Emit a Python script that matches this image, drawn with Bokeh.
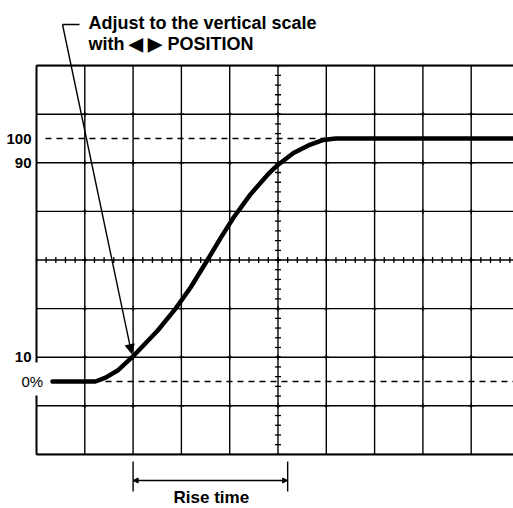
import numpy as np
from bokeh.plotting import figure
from bokeh.models import Range1d, Arrow, NormalHead
from bokeh.embed import file_html
from bokeh.resources import INLINE
from bokeh.core.properties import value

# ---- data (x in graticule divisions, y in percent of step amplitude) ----
curve_div = [0.33, 1.22, 1.43, 1.68, 1.98, 2.51, 2.88, 3.19, 3.54, 3.81, 4.08, 4.43, 4.78,
             4.99, 5.32, 5.67, 5.94, 6.19, 9.95]
curve_pct = [0, 0, 1.6, 4.5, 10, 21, 30, 38.7, 50, 59, 67.5, 77, 85,
             89, 94, 97.5, 99.4, 100, 100]
level_labels = ["100", "90", "10"]
level_pct = [100, 90, 10]
zero_label = "0%"
dashed_pct = [100, 0]
rise_start_div = 2.0
rise_end_div = 5.2
note_lines = ["Adjust to the vertical scale", "with \u25C0 \u25B6 POSITION"]
rise_label = "Rise time"

# graticule structure
n_hdiv = 10
n_vdiv = 8
pct_per_div = 20
bottom_pct = -30

PX_X = 48.3   # pixels per division (horizontal)
PX_Y = 2.43   # pixels per percent
x0_px, y0_px = 36, 381
W, H = 513, 508

def xd(px):
    return (px - x0_px) / PX_X

def yp(py):
    return (y0_px - py) / PX_Y

p = figure(width=W, height=H, x_range=Range1d(xd(0), xd(W)), y_range=Range1d(yp(H), yp(0)),
           output_backend="svg", toolbar_location=None, min_border=0)
p.axis.visible = False
p.grid.visible = False
p.outline_line_color = None
p.background_fill_color = "white"
p.border_fill_color = "white"

top_pct = bottom_pct + n_vdiv * pct_per_div
x_right = xd(W) + 1

# horizontal grid lines
hy = [bottom_pct + i * pct_per_div for i in range(n_vdiv + 1)]
p.segment(x0=[0] * len(hy), y0=hy, x1=[x_right] * len(hy), y1=hy,
          line_color="black", line_width=1.4)
# vertical grid lines
vx = list(range(1, n_hdiv + 1))
p.segment(x0=vx, y0=[bottom_pct] * len(vx), x1=vx, y1=[top_pct] * len(vx),
          line_color="black", line_width=1.4)
# outer border (left broken around the 0% label)
p.segment(x0=[0, 0], y0=[top_pct, bottom_pct], x1=[x_right, x_right], y1=[top_pct, bottom_pct],
          line_color="black", line_width=2)
p.segment(x0=[0, 0], y0=[top_pct, yp(395)], x1=[0, 0], y1=[yp(362), bottom_pct],
          line_color="black", line_width=2)

# minor ticks on center lines
cx = n_hdiv / 2
cy = bottom_pct + n_vdiv / 2 * pct_per_div
ty = np.arange(bottom_pct, top_pct + 0.01, pct_per_div / 5)
p.segment(x0=cx - 3 / PX_X, y0=ty, x1=cx + 3 / PX_X, y1=ty, line_color="black", line_width=1.3)
tx = np.arange(0, x_right, 0.2)
p.segment(x0=tx, y0=cy - 3 / PX_Y, x1=tx, y1=cy + 3 / PX_Y, line_color="black", line_width=1.3)

# small marks at grid intersections
gx, gy = np.meshgrid(np.arange(1, n_hdiv), hy[1:-1])
p.scatter(gx.ravel(), gy.ravel(), marker="cross", size=5, line_color="black", line_width=1.2)

# dashed reference levels
p.segment(x0=[xd(45), xd(105)], y0=dashed_pct, x1=[x_right, x_right], y1=dashed_pct,
          line_color="black", line_width=1.3, line_dash="6 5")

# waveform
p.line(curve_div, curve_pct, line_color="black", line_width=4.5, line_join="round", line_cap="round")

# level labels
p.text(x=[xd(31)] * len(level_pct), y=level_pct, text=level_labels,
       text_font=value("Liberation Sans"), text_font_style="bold", text_font_size="15px",
       text_align="right", text_baseline="middle", text_color="black")
p.text(x=[xd(21)], y=[0], text=[zero_label],
       text_font=value("Liberation Sans"), text_font_size="15px",
       text_align="left", text_baseline="middle", text_color="black")

# annotation text and leader arrow
p.text(x=[xd(88), xd(88)], y=[yp(22), yp(43)], text=note_lines,
       text_font=value("Liberation Sans"), text_font_style="bold", text_font_size="18px",
       text_align="left", text_baseline="alphabetic", text_color="black")
p.segment(x0=[xd(62)], y0=[yp(24)], x1=[xd(79)], y1=[yp(24)], line_color="black", line_width=1.3)
p.add_layout(Arrow(end=NormalHead(size=9, fill_color="black", line_color="black"),
                   x_start=xd(62), y_start=yp(24), x_end=rise_start_div - 0.03, y_end=11.5,
                   line_color="black", line_width=1.4))

# rise-time bracket
p.segment(x0=[rise_start_div, rise_end_div], y0=[yp(461), yp(461)],
          x1=[rise_start_div, rise_end_div], y1=[yp(491), yp(491)],
          line_color="black", line_width=1.4)
p.add_layout(Arrow(start=NormalHead(size=5, fill_color="black", line_color="black"),
                   end=NormalHead(size=5, fill_color="black", line_color="black"),
                   x_start=rise_start_div, y_start=yp(480), x_end=rise_end_div, y_end=yp(480),
                   line_color="black", line_width=1.6))
p.text(x=[(rise_start_div + rise_end_div) / 2 + 0.02], y=[yp(497)], text=[rise_label],
       text_font=value("Liberation Sans"), text_font_style="bold", text_font_size="17px",
       text_align="center", text_baseline="middle", text_color="black")

open("out.html", "w").write(file_html(p, INLINE))
